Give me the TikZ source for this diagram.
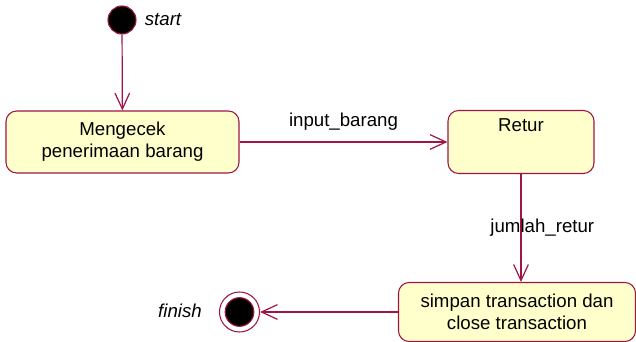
\documentclass[tikz,border=0pt]{standalone}
\usepackage{fontspec}
\setmainfont{Liberation Sans}
\usetikzlibrary{arrows.meta, positioning}
\definecolor{umlline}{RGB}{160,20,70}
\definecolor{umlfill}{RGB}{255,255,204}

\begin{document}
\begin{tikzpicture}[
  x=0.75pt, y=-0.75pt,
  state/.style={rectangle, rounded corners=8pt, draw=umlline, fill=umlfill,
    line width=0.8pt, align=center, inner sep=0pt,
    font=\fontsize{14}{16.5}\selectfont},
  startstate/.style={circle, draw=umlline, fill=black, line width=0.8pt,
    minimum size=21pt, inner sep=0pt},
  trans/.style={draw=umlline, line width=0.9pt,
    -{Straight Barb[length=12pt, width=11pt, line width=0.9pt]}},
  lbl/.style={inner sep=0pt, font=\fontsize{14}{16}\selectfont},
  stlbl/.style={lbl, font=\fontsize{14}{16}\selectfont\itshape}]

  \useasboundingbox (0,0) rectangle (636,342);

  \node[startstate] (start) at (122,20) {};
  \node[stlbl] (startlbl) at (163,20) {start};

  \node[state, minimum width=174.75pt, minimum height=46.5pt] (cek) at (122.5,142)
    {Mengecek\\penerimaan barang};
  \node[state, minimum width=109.5pt, minimum height=47.25pt,
    label={[lbl, anchor=north, yshift=-6pt]north:Retur}] (retur) at (521,142) {};
  \node[state, minimum width=177.75pt, minimum height=44.25pt] (simpan) at (517,312)
    {simpan transaction dan\\close transaction};

  \node[circle, draw=umlline, fill=white, line width=0.8pt,
    minimum size=30pt, inner sep=0pt] (finish) at (239.5,312) {};
  \node[startstate, minimum size=21.5pt] (finishdot) at (finish) {};
  \node[stlbl] (finishlbl) at (180,311) {finish};

  \draw[trans] (start) -- (cek);
  \draw[trans] (cek) -- node[lbl, midway, above=8pt] {input\_barang} (retur);
  \draw[trans] (retur.south) -- node[lbl, midway, xshift=16pt] {jumlah\_retur}
    (retur.south |- simpan.north);
  \draw[trans] (simpan) -- (finish);
\end{tikzpicture}
\end{document}
